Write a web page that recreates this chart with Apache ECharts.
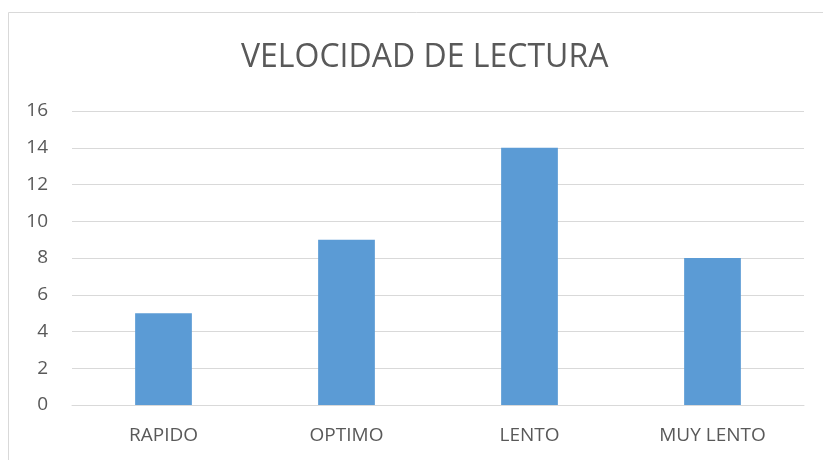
<!DOCTYPE html>
<html>
<head>
<meta charset="utf-8">
<script src="https://cdn.jsdelivr.net/npm/echarts@6/dist/echarts.min.js"></script>
<style>
  html, body { margin: 0; padding: 0; background: #fff; }
  #chart { width: 823px; height: 460px; }
</style>
</head>
<body>
<div id="chart"></div>
<script>
const categories = ['RAPIDO', 'OPTIMO', 'LENTO', 'MUY LENTO'];
const values = [5, 9, 14, 8];
const yTicks = [0, 2, 4, 6, 8, 10, 12, 14, 16];

const textColor = '#595959';
const fontFamily = '"Open Sans", "Noto Sans", sans-serif';

const myChart = echarts.init(document.getElementById('chart'));
const option = {
  animation: false,
  title: {
    text: 'VELOCIDAD DE LECTURA',
    left: 236,
    top: 37,
    textStyle: { color: textColor, fontSize: 32, fontWeight: 'normal', fontFamily: fontFamily }
  },
  graphic: [{
    type: 'rect',
    shape: { x: 8.5, y: 12.5, width: 900, height: 600 },
    style: { fill: 'none', stroke: '#d9d9d9', lineWidth: 1 },
    silent: true
  }],
  grid: { left: 72, right: 19, top: 111, bottom: 55 },
  xAxis: {
    type: 'category',
    data: categories,
    axisLine: { lineStyle: { color: '#d9d9d9' } },
    axisTick: { show: false },
    axisLabel: { color: textColor, fontSize: 19, fontFamily: fontFamily, margin: 21 }
  },
  yAxis: {
    type: 'value',
    min: yTicks[0],
    max: yTicks[yTicks.length - 1],
    interval: 2,
    axisLine: { show: false },
    axisTick: { show: false },
    splitLine: { lineStyle: { color: '#d9d9d9' } },
    axisLabel: { color: textColor, fontSize: 19, fontFamily: fontFamily, margin: 24 }
  },
  series: [{
    type: 'bar',
    data: values,
    barWidth: '31%',
    itemStyle: { color: '#5b9bd5' }
  }]
};
myChart.setOption(option);
</script>
</body>
</html>
